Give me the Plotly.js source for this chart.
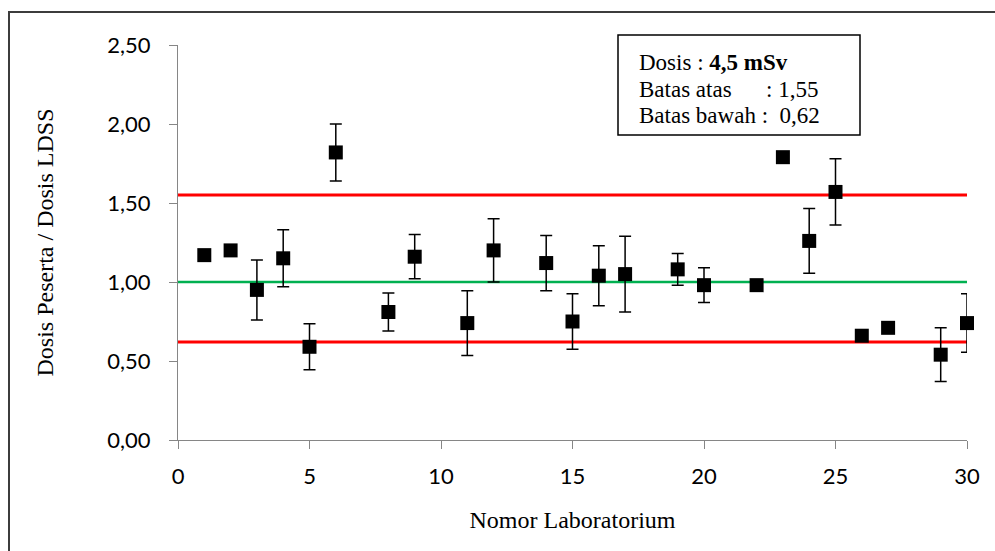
<!DOCTYPE html>
<html>
<head>
<meta charset="utf-8">
<script src="https://cdn.plot.ly/plotly-3.0.1.min.js"></script>
<style>
  html, body { margin: 0; padding: 0; background: #fff; }
  #wrap { position: relative; width: 995px; height: 551px; overflow: hidden; }
  #chart { position: absolute; left: 0; top: 0; width: 995px; height: 551px; }
  #frame { position: absolute; left: 8px; top: 11px; width: 1000px; height: 600px;
           border-left: 2px solid #3c3c3c; border-top: 2px solid #3c3c3c; pointer-events: none; }
</style>
</head>
<body>
<div id="wrap"><div id="chart"></div><div id="frame"></div></div>
<script>
// Laboratory numbers
const labs = [1, 2, 3, 4, 5, 6, 8, 9, 11, 12, 14, 15, 16, 17, 19, 20, 22, 23, 24, 25, 26, 27, 29, 30];
// Dosis Peserta / Dosis LDSS
const ratio = [1.17, 1.20, 0.95, 1.15, 0.59, 1.82, 0.81, 1.16, 0.74, 1.20, 1.12, 0.75, 1.04, 1.05, 1.08, 0.98, 0.98, 1.79, 1.26, 1.57, 0.66, 0.71, 0.54, 0.74];
// uncertainty (error bars)
const errs = [0, 0, 0.19, 0.18, 0.145, 0.18, 0.12, 0.14, 0.205, 0.20, 0.175, 0.175, 0.19, 0.24, 0.10, 0.11, 0, 0, 0.205, 0.21, 0, 0.02, 0.17, 0.185];
// reference lines
const refX = [0, 30];
const upperLimit = [1.55, 1.55];
const lowerLimit = [0.62, 0.62];
const target = [1.0, 1.0];
// tick labels
const xTicks = [0, 5, 10, 15, 20, 25, 30];
const yTicks = [0, 0.5, 1.0, 1.5, 2.0, 2.5];

const traces = [
  { x: refX, y: upperLimit, mode: 'lines', line: { color: '#FF0000', width: 3 }, hoverinfo: 'skip', showlegend: false, cliponaxis: false },
  { x: refX, y: lowerLimit, mode: 'lines', line: { color: '#FF0000', width: 3 }, hoverinfo: 'skip', showlegend: false, cliponaxis: false },
  { x: refX, y: target, mode: 'lines', line: { color: '#00B050', width: 2.5 }, hoverinfo: 'skip', showlegend: false, cliponaxis: false },
  {
    x: labs, y: ratio, mode: 'markers', showlegend: false, cliponaxis: false,
    marker: { symbol: 'square', size: 14, color: '#000000' },
    error_y: { type: 'data', array: errs, visible: true, color: '#000000', thickness: 1.5, width: 6 }
  }
];

const serif = 'Liberation Serif, Times New Roman, serif';
const layout = {
  width: 995, height: 551,
  margin: { l: 178, r: 28, t: 45, b: 111 },
  paper_bgcolor: 'rgba(0,0,0,0)',
  plot_bgcolor: '#ffffff',
  separators: ',.',
  showlegend: false,
  font: { family: 'Lato, sans-serif', color: '#000' },
  xaxis: {
    range: [0, 30], tickvals: xTicks, ticks: 'outside', ticklen: 8, tickwidth: 1, tickcolor: '#868686',
    showline: true, linecolor: '#868686', linewidth: 1, showgrid: false, zeroline: false,
    tickfont: { family: 'Lato, sans-serif', size: 22, color: '#000' },
    ticklabelstandoff: 9,
    title: { text: 'Nomor Laboratorium', font: { family: serif, size: 24, color: '#000' }, standoff: 22 }
  },
  yaxis: {
    range: [0, 2.5], tickvals: yTicks, tickformat: '.2f', ticks: 'outside', ticklen: 8, tickwidth: 1, tickcolor: '#868686',
    showline: true, linecolor: '#868686', linewidth: 1, showgrid: false, zeroline: false,
    tickfont: { family: 'Lato, sans-serif', size: 22, color: '#000' },
    ticklabelstandoff: 14,
    title: { text: 'Dosis Peserta / Dosis LDSS', font: { family: serif, size: 24, color: '#000' }, standoff: 46 }
  },
  shapes: [
    { type: 'rect', xref: 'paper', yref: 'paper',
      x0: (618 - 178) / 789, x1: (860 - 178) / 789, y0: (440 - 135) / 395, y1: (440 - 35) / 395,
      line: { color: '#000', width: 1.5 }, fillcolor: '#ffffff', layer: 'above' }
  ],
  annotations: [
    { xref: 'paper', yref: 'paper', x: (637 - 178) / 789, y: (440 - 62) / 395, xanchor: 'left', yanchor: 'middle',
      showarrow: false, align: 'left', font: { family: serif, size: 23, color: '#000' },
      text: 'Dosis : <b>4,5 mSv</b>' },
    { xref: 'paper', yref: 'paper', x: (637 - 178) / 789, y: (440 - 89) / 395, xanchor: 'left', yanchor: 'middle',
      showarrow: false, align: 'left', font: { family: serif, size: 23, color: '#000' },
      text: 'Batas atas\u00A0\u00A0\u00A0\u00A0\u00A0 : 1,55' },
    { xref: 'paper', yref: 'paper', x: (637 - 178) / 789, y: (440 - 116) / 395, xanchor: 'left', yanchor: 'middle',
      showarrow: false, align: 'left', font: { family: serif, size: 23, color: '#000' },
      text: 'Batas bawah :\u00A0 0,62' }
  ]
};

Plotly.newPlot('chart', traces, layout, { displayModeBar: false, staticPlot: true });
</script>
</body>
</html>
